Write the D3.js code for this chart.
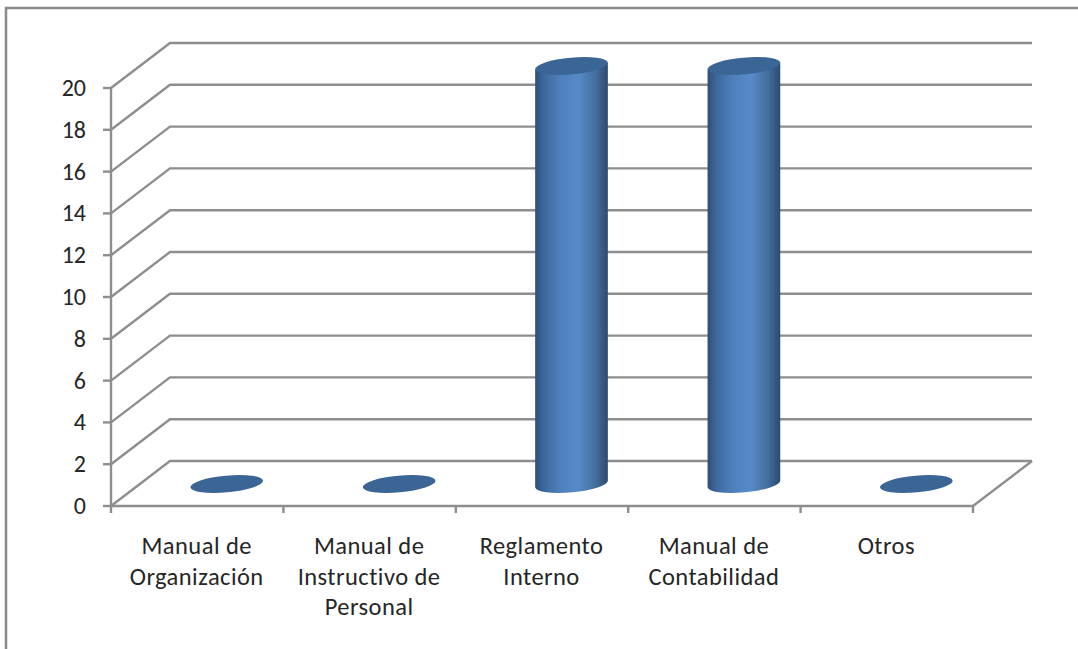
<!DOCTYPE html>
<html><head><meta charset="utf-8">
<script src="https://cdn.jsdelivr.net/npm/d3@7/dist/d3.min.js"></script>
<style>html,body{margin:0;padding:0;background:#fff}svg{display:block}text{font-family:Carlito,"Open Sans","Noto Sans",sans-serif;fill:#262626}</style>
</head><body><svg id="c" width="1078" height="649"></svg>
<script>
const categories=[["Manual de","Organización"],["Manual de","Instructivo de","Personal"],["Reglamento","Interno"],["Manual de","Contabilidad"],["Otros"]];
const values=[0,0,20,20,0];
const yTicks=[0,2,4,6,8,10,12,14,16,18,20];
const svg=d3.select("#c");
const defs=svg.append("defs");
const g=defs.append("linearGradient").attr("id","cyl");
[[0,"#2f4f77"],[.12,"#3d689c"],[.35,"#4f80bd"],[.6,"#568ac9"],[.82,"#44709f"],[1,"#2c4a70"]].forEach(s=>g.append("stop").attr("offset",s[0]).attr("stop-color",s[1]));
const y=d3.scaleLinear().domain([0,20]).range([506,88]);
const x=d3.scaleBand().domain(d3.range(categories.length)).range([111,973]);
const dx=59,dy=-45;
const grid="#8e8e8e";
svg.append("rect").attr("x",6).attr("y",8).attr("width",1100).attr("height",700).attr("fill","#fff").attr("stroke","#8a8a8a").attr("stroke-width",2.5);
const line=(a,b,c,d,w=2.4)=>svg.append("line").attr("x1",a).attr("y1",b).attr("x2",c).attr("y2",d).attr("stroke",grid).attr("stroke-width",w);
yTicks.forEach(t=>{
  const p=y(t);
  svg.append("path").attr("fill","none").attr("stroke",grid).attr("stroke-width",2.4)
    .attr("d",d3.line()([[x.range()[0],p],[x.range()[0]+dx,p+dy],[x.range()[1]+dx,p+dy]]));
  line(103,p,111,p);
  svg.append("text").attr("x",86).attr("y",p+8).attr("text-anchor","end").attr("font-size",24).text(t);
});
line(111,y(20),111,y(0));
line(111,y(0),973,y(0));
line(973,y(0),973+dx,y(0)+dy);
d3.range(categories.length+1).forEach(i=>{const px=i<categories.length?x(i):x.range()[1];line(px,y(0),px,y(0)+7);});
const rx=36.5,ry=8.4,rot=-5.3,cosR=Math.cos(rot*Math.PI/180),sinR=Math.sin(rot*Math.PI/180);
values.forEach((v,i)=>{
  const cx=x(i)+x.bandwidth()/2+dx/2, base=y(0)+dy/2+0.5, top=base-(y(0)-y(v));
  const ex=rx*cosR,ey=rx*sinR;
  if(v>0){
    svg.append("path").attr("fill","url(#cyl)")
     .attr("d",`M${cx-ex},${top-ey}L${cx-ex},${base-ey}A${rx},${ry} ${rot} 0 0 ${cx+ex},${base+ey}L${cx+ex},${top+ey}Z`);
  }
  svg.append("ellipse").attr("cx",0).attr("cy",0).attr("rx",rx).attr("ry",ry)
    .attr("transform",`translate(${cx},${top}) rotate(${rot})`).attr("fill","#3b6595");
});
categories.forEach((c,i)=>{
  const cx=x(i)+x.bandwidth()/2-0.5;
  const t=svg.append("text").attr("text-anchor","middle").attr("font-size",24.5).attr("letter-spacing",0.45);
  c.forEach((s,j)=>t.append("tspan").attr("x",cx).attr("y",554+j*30.5).text(s));
});
</script></body></html>
